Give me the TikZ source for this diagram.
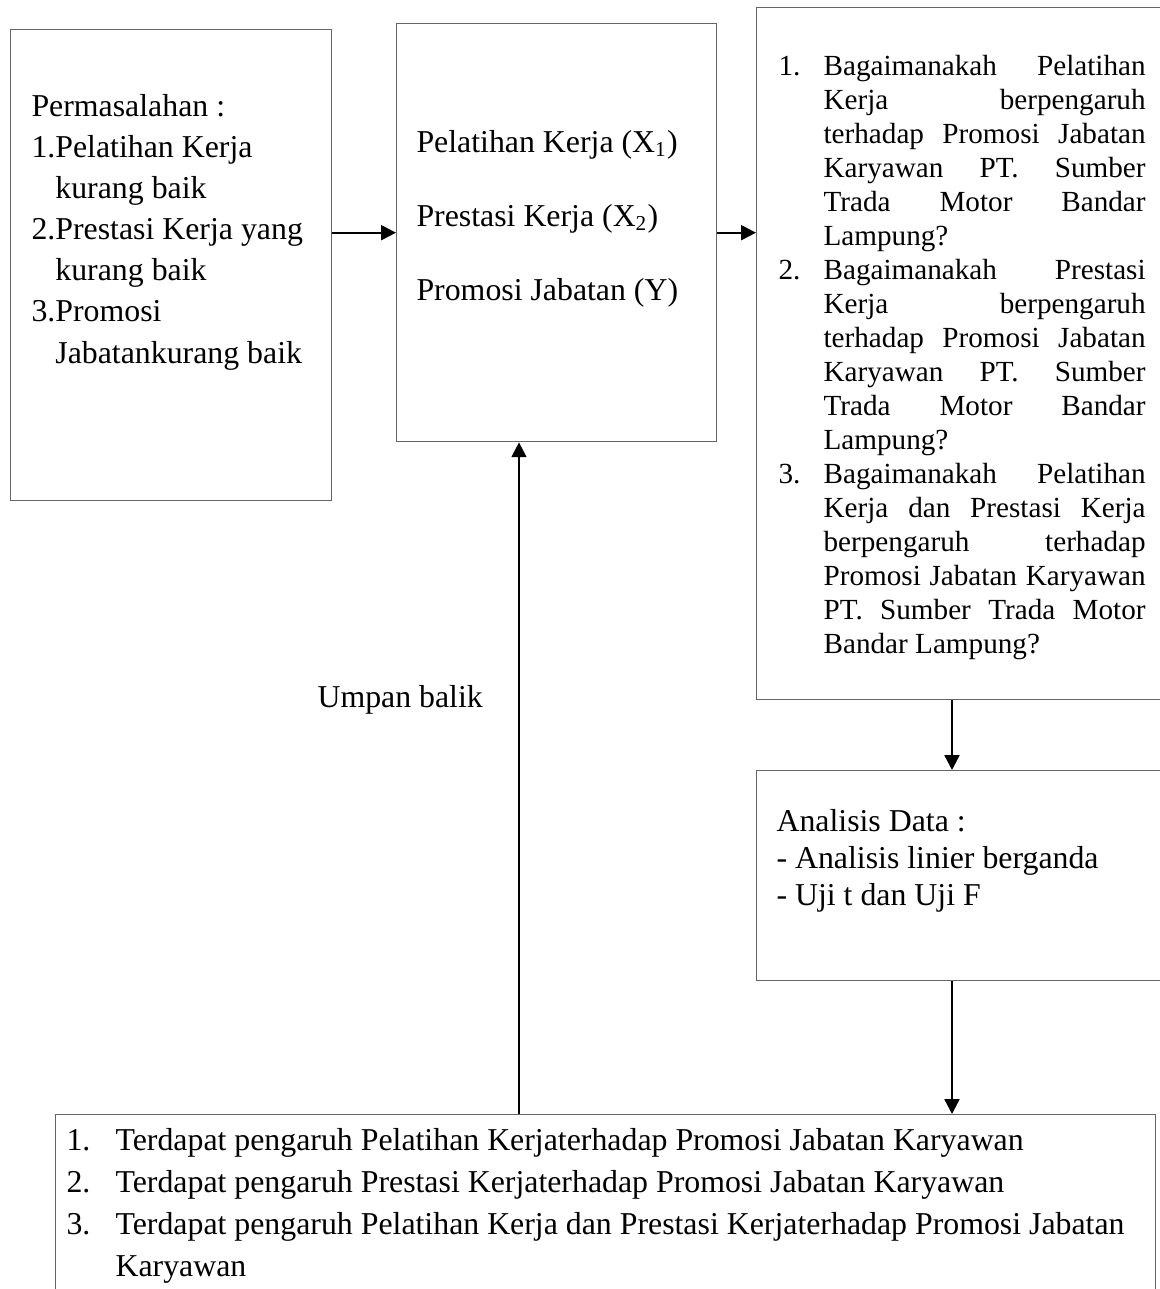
\documentclass[tikz,border=0pt]{standalone}
\usepackage{fontspec}
\setmainfont{Liberation Serif}
\usetikzlibrary{arrows.meta,positioning}
\newlength{\indenR}\setlength{\indenR}{17pt}
\newlength{\lebarR}\setlength{\lebarR}{121.4pt}
\newcommand{\nomor}[1]{\makebox[\indenR][l]{#1}}
\newcommand{\jbaris}[1]{\makebox[\lebarR][s]{#1}}
\newcommand{\lanjut}{\hspace*{\indenR}}
\newcommand{\nomorB}[1]{\makebox[18.5pt][l]{#1}}
\definecolor{garis}{gray}{0.4}
\tikzset{
  kotak/.style={draw=garis,line width=0.5pt,inner sep=0pt,anchor=north west},
  isi/.style={inner sep=0pt,anchor=base west,align=left},
  fl/.style={-{Triangle[length=5.6pt,width=5.6pt]},line width=0.85pt},
}

\begin{document}
\begin{tikzpicture}[x=0.377pt,y=-0.377pt,font=\fontsize{12}{13.8}\selectfont]
\clip (0,0) rectangle (1160,1289);
% kotak-kotak
\node[kotak,minimum width=121pt,minimum height=177.6pt] (masalah) at (10,29) {};
\node[kotak,minimum width=120.6pt,minimum height=157.6pt] (variabel) at (396,23) {};
\node[kotak,minimum width=162.1pt,minimum height=260.9pt] (rumusan) at (756,7) {};
\node[kotak,minimum width=162.1pt,minimum height=79.2pt] (analisis) at (756,770) {};
\node[kotak,minimum width=414.7pt,minimum height=82.9pt] (hasil) at (55,1114) {};
% isi (base = baris terakhir)
\node[isi,font=\fontsize{12}{15.5}\selectfont] (tmasalah) at (31,363)
  {Permasalahan :\\1.Pelatihan Kerja\\\phantom{1.}kurang baik\\
   2.Prestasi Kerja yang\\\phantom{2.}kurang baik\\3.Promosi\\
   \phantom{3.}Jabatankurang baik};
\node[isi,font=\fontsize{12}{27.9}\selectfont] (tvariabel) at (416,300)
  {Pelatihan Kerja (X\textsubscript{1})\\Prestasi Kerja (X\textsubscript{2})\\
   Promosi Jabatan (Y)};
\node[isi,font=\fontsize{11}{12.8}\selectfont] (trumusan) at (778,653) {%
  \nomor{1.}\jbaris{Bagaimanakah Pelatihan}\\
  \lanjut\jbaris{Kerja berpengaruh}\\
  \lanjut\jbaris{terhadap Promosi Jabatan}\\
  \lanjut\jbaris{Karyawan PT. Sumber}\\
  \lanjut\jbaris{Trada Motor Bandar}\\
  \lanjut Lampung?\\
  \nomor{2.}\jbaris{Bagaimanakah Prestasi}\\
  \lanjut\jbaris{Kerja berpengaruh}\\
  \lanjut\jbaris{terhadap Promosi Jabatan}\\
  \lanjut\jbaris{Karyawan PT. Sumber}\\
  \lanjut\jbaris{Trada Motor Bandar}\\
  \lanjut Lampung?\\
  \nomor{3.}\jbaris{Bagaimanakah Pelatihan}\\
  \lanjut\jbaris{Kerja dan Prestasi Kerja}\\
  \lanjut\jbaris{berpengaruh terhadap}\\
  \lanjut\jbaris{Promosi Jabatan Karyawan}\\
  \lanjut\jbaris{PT. Sumber Trada Motor}\\
  \lanjut Bandar Lampung?};
\node[isi] (tanalisis) at (776,905)
  {Analisis Data :\\- Analisis linier berganda\\- Uji t dan Uji F};
\node[isi,font=\fontsize{12}{15.8}\selectfont] (thasil) at (66,1276) {%
  \nomorB{1.}Terdapat pengaruh Pelatihan Kerjaterhadap Promosi Jabatan Karyawan\\
  \nomorB{2.}Terdapat pengaruh Prestasi Kerjaterhadap Promosi Jabatan Karyawan\\
  \nomorB{3.}Terdapat pengaruh Pelatihan Kerja dan Prestasi Kerjaterhadap Promosi Jabatan\\
  \hspace*{18.5pt}Karyawan};
\node[isi] (umpan) at (317,707) {Umpan balik};
% panah
\coordinate (kolom) at (952,0);
\coordinate (balik) at (519,0);
\draw[fl] (masalah.east |- variabel.west) -- (variabel.west);
\draw[fl] (variabel.east) -- (variabel.east -| rumusan.west);
\draw[fl] (rumusan.south -| kolom) -- (analisis.north -| kolom);
\draw[fl] (analisis.south -| kolom) -- (hasil.north -| kolom);
\draw[fl] (hasil.north -| balik) -- (variabel.south -| balik);
\end{tikzpicture}
\end{document}
